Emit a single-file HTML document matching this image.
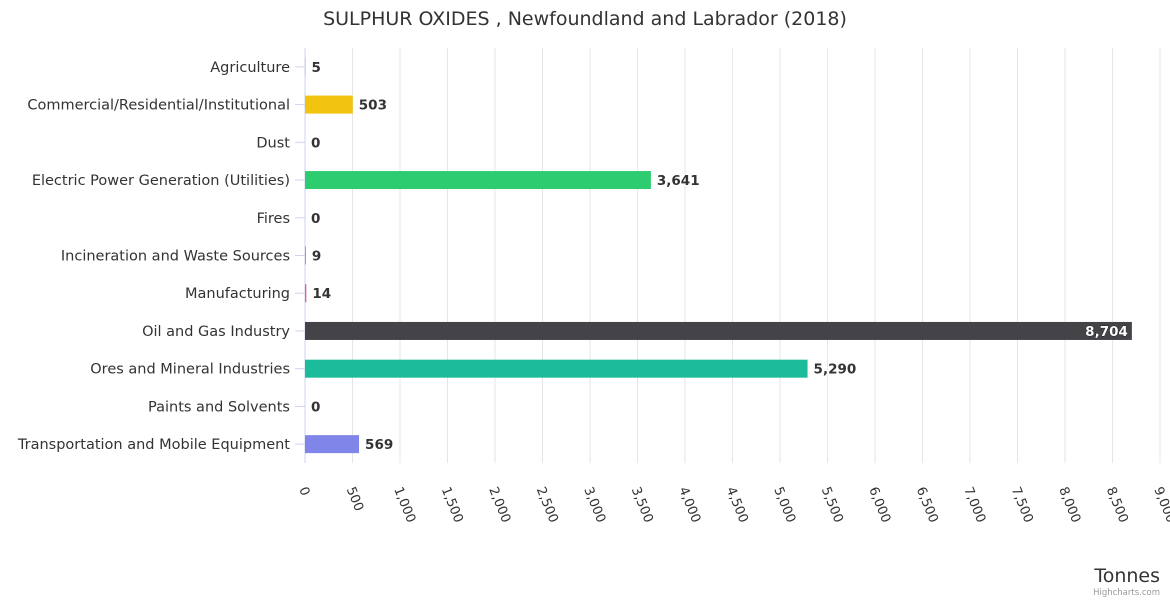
<!DOCTYPE html>
<html><head><meta charset="utf-8"><style>
body{margin:0;background:#fff;}
svg{font-family:"DejaVu Sans","Liberation Sans",sans-serif;}
</style></head><body>
<svg id="chart" width="1170" height="600" xmlns="http://www.w3.org/2000/svg">
<text x="585" y="25" text-anchor="middle" font-size="19" fill="#333">SULPHUR OXIDES , Newfoundland and Labrador (2018)</text>
<g id="grid"></g><g id="bars"></g><g id="labels"></g>
<text x="1160" y="582" text-anchor="end" font-size="19" fill="#333">Tonnes</text>
<text x="1160" y="595" text-anchor="end" font-size="8.5" fill="#999">Highcharts.com</text>
</svg>
<script>
const categories=["Agriculture","Commercial/Residential/Institutional","Dust","Electric Power Generation (Utilities)","Fires","Incineration and Waste Sources","Manufacturing","Oil and Gas Industry","Ores and Mineral Industries","Paints and Solvents","Transportation and Mobile Equipment"];
const values=[5,503,0,3641,0,9,14,8704,5290,0,569];
const colors=["#7cb5ec","#f1c40f","#90ed7d","#2ecc71","#f7a35c","#8085e9","#f15c80","#434348","#1abc9c","#2b908f","#8085e9"];
const ticks=[0,500,1000,1500,2000,2500,3000,3500,4000,4500,5000,5500,6000,6500,7000,7500,8000,8500,9000];
const NS="http://www.w3.org/2000/svg";
const X0=305,X1=1160,XMAX=9000,PTOP=48,PBOT=463;
const xs=v=>X0+v/XMAX*(X1-X0);
const band=(PBOT-PTOP)/categories.length;
const yc=i=>PTOP+band*(i+0.5);
function mk(t,a,p){const e=document.createElementNS(NS,t);for(const k in a)e.setAttribute(k,a[k]);p.appendChild(e);return e;}
const g=document.getElementById('grid'),b=document.getElementById('bars'),l=document.getElementById('labels');
ticks.forEach(t=>{
 const ln=mk('line',{x1:xs(t),x2:xs(t),y1:PTOP,y2:PBOT,stroke:t===0?'#ccd6eb':'#e6e6e6','stroke-width':1},g);
 
 
 const tx=mk('text',{x:xs(t)-6,y:489,'font-size':13,fill:'#333',transform:`rotate(68 ${xs(t)-6} 489)`},g);
 tx.textContent=t.toLocaleString('en-US');
 
 
});
categories.forEach((c,i)=>{
 const y=yc(i);
 const tk=mk('line',{x1:X0-10,x2:X0,y1:y,y2:y,stroke:'#ccd6eb'},g);
 
 
 const ct=mk('text',{x:290,y:y+5,'text-anchor':'end','font-size':14.5,fill:'#333'},l);
 ct.textContent=c;
 
 
 const w=xs(values[i])-X0;
 const r=mk('rect',{x:X0,y:y-9,width:Math.max(w,0),height:18,fill:colors[i]},b);
 
 
 const inside=w>700;
 const vt=mk('text',{x:inside?X0+w-4:X0+w+6,y:y+5,'text-anchor':inside?'end':'start','font-size':13.5,'font-weight':'bold',fill:inside?'#fff':'#333',stroke:inside?'#000':'#fff','stroke-width':inside?0.6:2,'paint-order':'stroke'},l);
 vt.textContent=values[i].toLocaleString('en-US');
 
 
});
mk('line',{x1:X0,x2:X0,y1:PTOP,y2:PBOT,stroke:'#ccd6eb'},g);
</script>
</body></html>
